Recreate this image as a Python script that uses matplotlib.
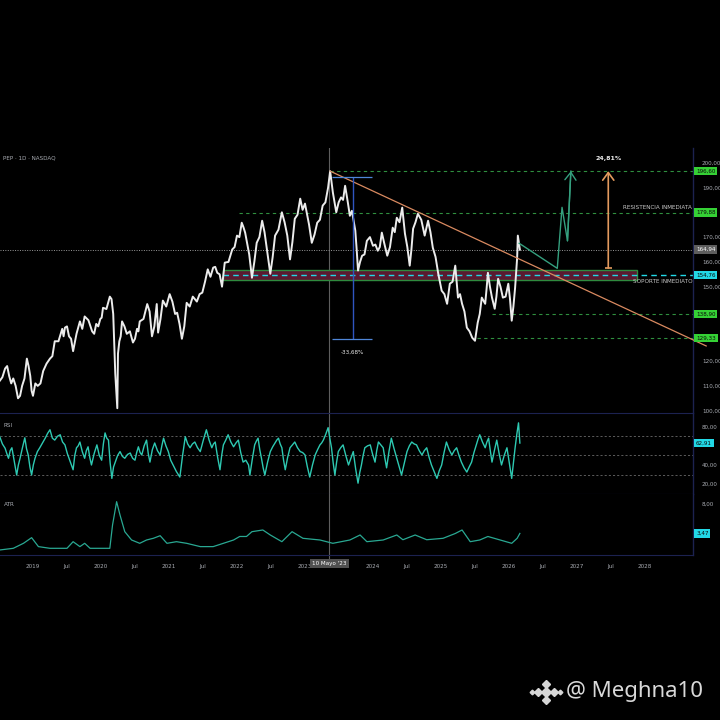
import matplotlib
matplotlib.use('Agg')
import matplotlib.pyplot as plt
from matplotlib.patches import Rectangle
from matplotlib.ticker import FuncFormatter

plt.rcParams['font.family'] = ['DejaVu Sans']

# ---------------- data (decimal years) ----------------
price_t = [2018.51, 2018.55, 2018.59, 2018.62, 2018.65, 2018.68, 2018.71, 2018.745, 2018.78, 2018.81,
           2018.84, 2018.875, 2018.91, 2018.935, 2018.96, 2018.98, 2019.00, 2019.035, 2019.07, 2019.11,
           2019.15, 2019.20, 2019.25, 2019.285, 2019.32, 2019.375, 2019.43, 2019.45, 2019.47, 2019.50,
           2019.53, 2019.56, 2019.59, 2019.64, 2019.69, 2019.725, 2019.76, 2019.815, 2019.87, 2019.90,
           2019.93, 2019.96, 2019.99, 2020.01, 2020.03, 2020.08, 2020.13, 2020.155, 2020.18, 2020.21,
           2020.24, 2020.25, 2020.27, 2020.29, 2020.31, 2020.345, 2020.38, 2020.425, 2020.47, 2020.50,
           2020.53, 2020.55, 2020.57, 2020.625, 2020.68, 2020.715, 2020.75, 2020.785, 2020.82, 2020.84,
           2020.875, 2020.91, 2020.96, 2021.01, 2021.05, 2021.09, 2021.12, 2021.155, 2021.19, 2021.225,
           2021.26, 2021.305, 2021.35, 2021.41, 2021.45, 2021.49, 2021.53, 2021.57, 2021.61, 2021.65,
           2021.68, 2021.71, 2021.745, 2021.78, 2021.82, 2021.875, 2021.93, 2021.965, 2022.00, 2022.035,
           2022.07, 2022.095, 2022.12, 2022.18, 2022.22, 2022.255, 2022.29, 2022.33, 2022.37, 2022.405,
           2022.44, 2022.49, 2022.525, 2022.56, 2022.61, 2022.66, 2022.70, 2022.74, 2022.78, 2022.815,
           2022.85, 2022.89, 2022.93, 2022.965, 2023.00, 2023.06, 2023.10, 2023.14, 2023.18, 2023.22,
           2023.26, 2023.30, 2023.34, 2023.37, 2023.41, 2023.46, 2023.495, 2023.53, 2023.56, 2023.59,
           2023.63, 2023.66, 2023.69, 2023.74, 2023.76, 2023.78, 2023.81, 2023.84, 2023.875, 2023.91,
           2023.955, 2024.00, 2024.035, 2024.07, 2024.10, 2024.13, 2024.17, 2024.21, 2024.25, 2024.29,
           2024.32, 2024.35, 2024.39, 2024.43, 2024.47, 2024.505, 2024.54, 2024.565, 2024.59, 2024.625,
           2024.66, 2024.71, 2024.76, 2024.81, 2024.845, 2024.88, 2024.92, 2024.96, 2025.01, 2025.05,
           2025.09, 2025.13, 2025.17, 2025.21, 2025.25, 2025.28, 2025.31, 2025.345, 2025.38, 2025.42,
           2025.46, 2025.50, 2025.54, 2025.57, 2025.60, 2025.65, 2025.67, 2025.69, 2025.72, 2025.75,
           2025.79, 2025.815, 2025.84, 2025.875, 2025.91, 2025.95, 2025.99, 2026.015, 2026.04, 2026.065,
           2026.09, 2026.12, 2026.13, 2026.16]
price_v = [112.0, 113.5, 117.0, 118.0, 114.0, 111.0, 113.0, 110.0, 105.0, 106.0,
           110.0, 113.0, 121.0, 118.0, 114.0, 108.0, 106.0, 111.0, 110.0, 111.0,
           116.0, 119.0, 121.0, 122.0, 128.0, 128.0, 133.0, 130.0, 133.5, 134.0,
           130.0, 129.0, 124.0, 131.0, 136.0, 133.0, 138.0, 136.5, 132.0, 131.0,
           135.0, 134.0, 137.0, 137.5, 141.5, 141.0, 146.0, 145.0, 139.0, 115.0,
           101.0, 123.0, 128.0, 130.0, 136.0, 134.0, 131.0, 132.0, 127.5, 129.0,
           133.0, 132.0, 136.0, 137.0, 143.0, 140.0, 130.0, 134.0, 143.0, 131.5,
           137.0, 144.4, 142.0, 147.0, 144.0, 139.0, 139.5, 135.0, 129.0, 134.0,
           143.5, 142.0, 146.0, 144.0, 147.0, 147.6, 152.0, 157.0, 154.0, 157.7,
           158.0, 155.6, 155.0, 150.0, 159.7, 160.0, 165.0, 166.0, 170.6, 170.0,
           175.8, 174.0, 171.8, 163.0, 153.6, 160.0, 167.7, 170.0, 176.6, 172.0,
           165.0, 155.2, 162.0, 170.6, 173.0, 180.0, 176.0, 170.6, 161.0, 168.0,
           177.4, 179.0, 185.5, 181.0, 183.5, 175.0, 167.7, 171.0, 175.8, 177.0,
           182.7, 184.0, 190.0, 196.6, 188.0, 180.0, 184.0, 186.0, 185.0, 190.7,
           184.0, 178.6, 180.6, 172.6, 165.0, 156.5, 160.0, 162.5, 163.0, 168.5,
           170.0, 166.5, 167.0, 164.5, 166.0, 171.8, 167.0, 162.5, 166.0, 173.8,
           172.0, 177.8, 176.0, 181.9, 171.4, 166.0, 158.5, 165.0, 173.4, 176.0,
           179.4, 177.0, 170.6, 176.6, 172.0, 165.7, 162.0, 155.2, 148.4, 147.0,
           143.1, 151.2, 152.0, 158.5, 145.6, 147.0, 143.1, 140.0, 133.5, 132.0,
           129.4, 128.2, 135.5, 139.0, 145.6, 143.1, 149.0, 155.6, 150.0, 145.6,
           141.1, 146.0, 153.2, 150.0, 145.6, 146.0, 151.2, 145.0, 136.3, 142.0,
           149.6, 161.7, 170.6, 164.94]

rsi_t = [2018.51, 2018.55, 2018.59, 2018.615, 2018.64, 2018.665, 2018.69, 2018.725, 2018.76, 2018.785,
         2018.81, 2018.845, 2018.88, 2018.905, 2018.93, 2018.955, 2018.98, 2019.005, 2019.03, 2019.065,
         2019.10, 2019.14, 2019.18, 2019.215, 2019.25, 2019.285, 2019.32, 2019.36, 2019.40, 2019.435,
         2019.47, 2019.505, 2019.54, 2019.565, 2019.59, 2019.615, 2019.64, 2019.665, 2019.69, 2019.725,
         2019.76, 2019.785, 2019.81, 2019.835, 2019.86, 2019.90, 2019.94, 2019.975, 2020.01, 2020.035,
         2020.06, 2020.085, 2020.11, 2020.135, 2020.16, 2020.185, 2020.21, 2020.245, 2020.28, 2020.315,
         2020.35, 2020.39, 2020.43, 2020.465, 2020.50, 2020.525, 2020.55, 2020.575, 2020.60, 2020.635,
         2020.67, 2020.695, 2020.72, 2020.755, 2020.79, 2020.83, 2020.87, 2020.895, 2020.92, 2020.955,
         2020.99, 2021.025, 2021.06, 2021.11, 2021.16, 2021.20, 2021.24, 2021.275, 2021.31, 2021.345,
         2021.38, 2021.42, 2021.46, 2021.505, 2021.55, 2021.59, 2021.63, 2021.655, 2021.68, 2021.715,
         2021.75, 2021.775, 2021.80, 2021.835, 2021.87, 2021.91, 2021.95, 2021.985, 2022.02, 2022.055,
         2022.09, 2022.13, 2022.17, 2022.19, 2022.225, 2022.26, 2022.285, 2022.31, 2022.335, 2022.36,
         2022.385, 2022.41, 2022.45, 2022.49, 2022.525, 2022.56, 2022.585, 2022.61, 2022.635, 2022.66,
         2022.685, 2022.71, 2022.745, 2022.78, 2022.815, 2022.85, 2022.89, 2022.93, 2022.965, 2023.00,
         2023.035, 2023.07, 2023.11, 2023.15, 2023.185, 2023.22, 2023.245, 2023.27, 2023.305, 2023.34,
         2023.365, 2023.39, 2023.415, 2023.44, 2023.465, 2023.49, 2023.525, 2023.56, 2023.60, 2023.64,
         2023.675, 2023.71, 2023.745, 2023.78, 2023.805, 2023.83, 2023.855, 2023.88, 2023.92, 2023.96,
         2023.995, 2024.03, 2024.055, 2024.08, 2024.115, 2024.15, 2024.175, 2024.20, 2024.235, 2024.27,
         2024.31, 2024.35, 2024.385, 2024.42, 2024.46, 2024.50, 2024.535, 2024.57, 2024.605, 2024.64,
         2024.68, 2024.72, 2024.755, 2024.79, 2024.825, 2024.86, 2024.90, 2024.94, 2024.975, 2025.01,
         2025.045, 2025.08, 2025.12, 2025.16, 2025.195, 2025.23, 2025.265, 2025.30, 2025.34, 2025.38,
         2025.415, 2025.45, 2025.485, 2025.52, 2025.545, 2025.57, 2025.61, 2025.65, 2025.675, 2025.70,
         2025.725, 2025.75, 2025.785, 2025.82, 2025.855, 2025.89, 2025.93, 2025.97, 2026.005, 2026.04,
         2026.065, 2026.09, 2026.115, 2026.14, 2026.16]
rsi_v = [69.8, 62.0, 57.5, 52.0, 47.0, 55.0, 58.0, 44.0, 29.5, 40.0,
         47.0, 58.0, 68.4, 57.0, 50.5, 38.0, 29.5, 40.0, 47.0, 54.0,
         58.0, 63.0, 68.0, 73.0, 76.8, 68.0, 66.0, 70.0, 71.6, 64.0,
         61.0, 52.0, 45.0, 40.0, 35.0, 50.0, 58.0, 60.0, 64.0, 54.0,
         47.0, 55.0, 59.0, 48.0, 40.0, 52.0, 61.0, 50.0, 45.0, 62.0,
         73.5, 68.0, 66.0, 42.0, 26.0, 38.0, 43.0, 50.0, 54.0, 49.0,
         47.0, 51.0, 52.5, 47.0, 45.0, 53.0, 59.0, 53.0, 50.5, 60.0,
         66.0, 52.0, 43.0, 56.0, 63.0, 55.0, 50.5, 60.0, 68.0, 60.0,
         54.0, 45.0, 40.0, 33.0, 27.4, 50.0, 69.5, 62.0, 58.0, 62.0,
         64.0, 58.0, 54.0, 66.0, 76.8, 66.0, 58.0, 62.0, 64.0, 48.0,
         35.0, 50.0, 61.0, 66.0, 71.6, 64.0, 59.0, 63.0, 66.0, 53.0,
         43.0, 45.0, 40.0, 29.5, 46.0, 61.0, 65.0, 68.0, 56.0, 47.0,
         37.0, 29.5, 43.0, 54.0, 59.0, 63.0, 66.0, 68.0, 62.0, 58.0,
         45.0, 35.0, 48.0, 58.0, 61.0, 64.0, 58.0, 54.0, 53.0, 50.5,
         38.0, 27.4, 40.0, 50.5, 56.0, 61.0, 63.0, 66.0, 72.0, 79.0,
         68.0, 58.0, 42.0, 29.5, 43.0, 54.0, 58.0, 61.0, 50.0, 40.0,
         47.0, 54.0, 36.0, 21.0, 32.0, 40.0, 50.0, 58.0, 60.0, 61.0,
         51.0, 43.0, 55.0, 64.0, 61.0, 58.0, 47.0, 37.0, 54.0, 68.0,
         57.0, 47.0, 38.0, 29.5, 42.0, 54.0, 60.0, 64.0, 62.0, 61.0,
         55.0, 50.5, 55.0, 58.0, 48.0, 40.0, 33.0, 26.0, 34.0, 40.0,
         53.0, 64.0, 56.0, 50.5, 55.0, 58.0, 50.0, 43.0, 37.0, 32.6,
         38.0, 43.0, 53.0, 61.0, 67.0, 71.6, 64.0, 58.0, 64.0, 68.0,
         55.0, 43.0, 55.0, 66.0, 52.0, 40.0, 50.0, 58.0, 42.0, 26.0,
         42.0, 58.0, 72.0, 84.0, 62.91]

atr_t = [2018.51, 2018.71, 2018.86, 2018.98, 2019.08, 2019.25, 2019.50, 2019.59, 2019.69, 2019.76,
         2019.84, 2020.13, 2020.17, 2020.23, 2020.28, 2020.35, 2020.45, 2020.57, 2020.67, 2020.77,
         2020.87, 2020.97, 2021.11, 2021.26, 2021.46, 2021.65, 2021.80, 2021.95, 2022.04, 2022.14,
         2022.22, 2022.38, 2022.49, 2022.66, 2022.81, 2022.97, 2023.22, 2023.41, 2023.66, 2023.81,
         2023.91, 2024.15, 2024.35, 2024.44, 2024.62, 2024.79, 2025.03, 2025.21, 2025.31, 2025.43,
         2025.57, 2025.69, 2025.87, 2026.04, 2026.12, 2026.16]
atr_v = [0.92, 1.18, 1.95, 2.82, 1.44, 1.18, 1.18, 2.20, 1.44, 1.95,
         1.18, 1.18, 4.77, 8.36, 6.30, 3.74, 2.46, 1.95, 2.46, 2.72,
         3.12, 1.95, 2.20, 1.95, 1.44, 1.44, 1.95, 2.46, 3.00, 3.00,
         3.74, 4.00, 3.23, 2.20, 3.74, 2.72, 2.46, 1.95, 2.46, 3.23,
         2.20, 2.46, 3.23, 2.50, 3.23, 2.50, 2.72, 3.46, 4.00, 2.20,
         2.46, 3.00, 2.46, 1.95, 2.72, 3.47]

# key levels
level_target = 196.60
level_resist = 179.88
level_last = 164.94
level_support = 154.76
level_s2 = 138.90
level_s3 = 129.33
zone_low, zone_high = 152.9, 156.8
zone_t0, zone_t1 = 2021.79, 2027.88
resist_t0 = 2022.03
s2_t0 = 2025.75
s3_t0 = 2025.53
peak_t, peak_v = 2023.37, 196.6
trend_end_t, trend_end_v = 2028.90, 126.1
proj_t = [2026.15, 2026.71, 2026.78, 2026.86, 2026.91]
proj_v = [167.5, 157.4, 182.0, 168.5, 196.6]
gain_t, gain_lo, gain_hi, gain_lbl = 2027.46, 157.52, 196.60, '24,81%'
drop_t, drop_hi, drop_lo, drop_lbl = 2023.70, 194.4, 128.93, '-33,68%'
drop_tick0, drop_tick1 = 2023.40, 2023.99
cross_t = 2023.36
cross_lbl = "10 Mayo '23"

x_ticks = [2019, 2019.5, 2020, 2020.5, 2021, 2021.5, 2022, 2022.5, 2023, 2024, 2024.5,
           2025, 2025.5, 2026, 2026.5, 2027, 2027.5, 2028]
x_labels = ['2019', 'Jul', '2020', 'Jul', '2021', 'Jul', '2022', 'Jul', '2023', '2024', 'Jul',
            '2025', 'Jul', '2026', 'Jul', '2027', 'Jul', '2028']
price_ticks = [200, 190, 170, 160, 150, 120, 110, 100]
rsi_ticks = [80, 40, 20]
rsi_levels = [70, 50, 30]
atr_ticks = [8]

# ---------------- style ----------------
BG = 'black'
GRID_SEP = '#1c2250'
TXT = '#a9acb3'
WHITE = '#ececec'
GREEN_D = '#2f8f3f'
GREEN_BOX = '#35d135'
CYAN = '#22d8e6'
TEAL = '#2ec9b2'
ORANGE = '#e39a5e'
TREND = '#d98a60'
PROJ = '#35a07f'
BLUE = '#2f55c0'
BLUE_L = '#4f86d8'
FS = 4.1

W, H = 720, 720
fig = plt.figure(figsize=(7.2, 7.2), dpi=100, facecolor=BG)


def rect(x0, y0, x1, y1):
    return [x0 / W, 1 - y1 / H, (x1 - x0) / W, (y1 - y0) / H]


ax_p = fig.add_axes(rect(0, 148, 693, 413))
ax_r = fig.add_axes(rect(0, 413, 693, 494), sharex=ax_p)
ax_a = fig.add_axes(rect(0, 494, 693, 555), sharex=ax_p)

xmin, xmax = 2018.515, 2028.706
for ax in (ax_p, ax_r, ax_a):
    ax.set_facecolor(BG)
    ax.set_xlim(xmin, xmax)
    for s in ('left', 'top', 'bottom'):
        ax.spines[s].set_visible(False)
    ax.spines['right'].set_color(GRID_SEP)
    ax.spines['right'].set_linewidth(1.0)
    ax.yaxis.tick_right()
    ax.tick_params(axis='y', right=False, labelright=True, labelsize=FS, colors=TXT, pad=3)
    ax.tick_params(axis='x', bottom=False, labelbottom=False)
    ax.yaxis.set_major_formatter(FuncFormatter(lambda v, p: f'{v:.2f}'.replace('.', ',')))
    ax.axvline(cross_t, color='#5e5e5e', lw=0.8, zorder=1)

ax_r.spines['top'].set_visible(True)
ax_r.spines['top'].set_color(GRID_SEP)
ax_r.spines['bottom'].set_visible(True)
ax_r.spines['bottom'].set_color(GRID_SEP)
ax_a.spines['bottom'].set_visible(True)
ax_a.spines['bottom'].set_color(GRID_SEP)

# ---------------- price pane ----------------
ax_p.set_ylim(99.07, 205.93)
ax_p.set_yticks(price_ticks)

ax_p.add_patch(Rectangle((zone_t0, zone_low), zone_t1 - zone_t0, zone_high - zone_low,
                         facecolor='#5a1a30', edgecolor='#2f8a3e', lw=1.0, zorder=1))
ax_p.hlines(level_support, zone_t0, xmax, colors=CYAN, linestyles=(0, (4, 3)), lw=1.0, zorder=2)
ax_p.hlines(level_last, xmin, xmax, colors='#9a9a9a', linestyles=(0, (1, 1.5)), lw=0.7, zorder=2)
ax_p.hlines(level_target, peak_t, xmax, colors=GREEN_D, linestyles=(0, (3, 3)), lw=0.8, zorder=2)
ax_p.hlines(level_resist, resist_t0, xmax, colors=GREEN_D, linestyles=(0, (3, 3)), lw=0.8, zorder=2)
ax_p.hlines(level_s2, s2_t0, xmax, colors=GREEN_D, linestyles=(0, (3, 3)), lw=0.8, zorder=2)
ax_p.hlines(level_s3, s3_t0, xmax, colors=GREEN_D, linestyles=(0, (3, 3)), lw=0.8, zorder=2)

ax_p.plot(price_t, price_v, color=WHITE, lw=1.4, zorder=4)

ax_p.plot([peak_t, trend_end_t], [peak_v, trend_end_v], color=TREND, lw=0.9, zorder=5, clip_on=False)

ax_p.plot(proj_t, proj_v, color=PROJ, lw=1.0, zorder=5)
ax_p.annotate('', xy=(proj_t[-1], proj_v[-1]), xytext=(proj_t[-2], proj_v[-2]),
              arrowprops=dict(arrowstyle='->,head_length=0.55,head_width=0.4', color=PROJ, lw=1.0,
                              shrinkA=0, shrinkB=0, mutation_scale=10), zorder=5)

ax_p.annotate('', xy=(gain_t, gain_hi), xytext=(gain_t, gain_lo),
              arrowprops=dict(arrowstyle='->,head_length=0.55,head_width=0.4', color=ORANGE, lw=1.2,
                              shrinkA=0, shrinkB=0, mutation_scale=10), zorder=5)
ax_p.hlines(gain_lo, gain_t - 0.05, gain_t + 0.05, colors=ORANGE, lw=1.2, zorder=5)
ax_p.text(gain_t, 201.6, gain_lbl, color=WHITE, fontsize=FS + 0.4, ha='center', va='center',
          fontweight='bold')

ax_p.vlines(drop_t, drop_lo, drop_hi, colors=BLUE, lw=1.0, zorder=5)
ax_p.hlines([drop_hi, drop_lo], drop_tick0, drop_tick1, colors=BLUE_L, lw=0.9, zorder=5)
ax_p.text(drop_t, 123.7, drop_lbl, color=WHITE, fontsize=FS, ha='center', va='center')

ax_p.text(0.005, 0.962, 'PEP · 1D · NASDAQ', transform=ax_p.transAxes, color=TXT, fontsize=FS,
          ha='left', va='center')
ax_p.text(xmax - 0.01, 181.9, 'RESISTENCIA INMEDIATA', color='#c8c8c8', fontsize=FS, ha='right',
          va='center')
ax_p.text(xmax - 0.01, 151.9, 'SOPORTE INMEDIATO', color='#c8c8c8', fontsize=FS, ha='right',
          va='center')


def tag(ax, y, txt, fc, tc):
    ax.text(1.0045, y, txt, transform=ax.get_yaxis_transform(), fontsize=FS, color=tc,
            ha='left', va='center', zorder=10, clip_on=False,
            bbox=dict(boxstyle='square,pad=0.3', fc=fc, ec='none'))


tag(ax_p, level_target, '196,60', GREEN_BOX, '#0a0a0a')
tag(ax_p, level_resist, '179,88', GREEN_BOX, '#0a0a0a')
tag(ax_p, level_last, '164,94', '#5d5d5d', '#ffffff')
tag(ax_p, level_support, '154,76', CYAN, '#0a0a0a')
tag(ax_p, level_s2, '138,90', GREEN_BOX, '#0a0a0a')
tag(ax_p, level_s3, '129,33', GREEN_BOX, '#0a0a0a')

# ---------------- RSI pane ----------------
ax_r.set_ylim(9.7, 94.3)
ax_r.set_yticks(rsi_ticks)
for lv in rsi_levels:
    ax_r.axhline(lv, color='#6a6a6a', lw=0.6, ls=(0, (2.5, 2.5)), zorder=1)
ax_r.plot(rsi_t, rsi_v, color=TEAL, lw=1.0, zorder=3)
ax_r.text(0.005, 0.85, 'RSI', transform=ax_r.transAxes, color=TXT, fontsize=FS, ha='left', va='center')
tag(ax_r, rsi_v[-1], f'{rsi_v[-1]:.2f}'.replace('.', ','), CYAN, '#0a0a0a')

# ---------------- ATR pane ----------------
ax_a.set_ylim(0.15, 9.54)
ax_a.set_yticks(atr_ticks)
ax_a.plot(atr_t, atr_v, color='#29a892', lw=0.9, zorder=3)
ax_a.text(0.005, 0.82, 'ATR', transform=ax_a.transAxes, color=TXT, fontsize=FS, ha='left', va='center')
tag(ax_a, atr_v[-1], f'{atr_v[-1]:.2f}'.replace('.', ','), CYAN, '#0a0a0a')

ax_a.set_xticks(x_ticks)
ax_a.set_xticklabels(x_labels)
ax_a.tick_params(axis='x', bottom=False, labelbottom=True, labelsize=FS, colors=TXT, pad=3)

# crosshair date label
ax_a.annotate(cross_lbl, xy=(cross_t, 0), xycoords=('data', 'axes fraction'), xytext=(0, -6),
              textcoords='offset points', ha='center', va='center', fontsize=FS, color='#ffffff',
              annotation_clip=False, zorder=10,
              bbox=dict(boxstyle='square,pad=0.4', fc='#505050', ec='none'))
ax_a.plot([cross_t, cross_t], [0, -0.08], transform=ax_a.get_xaxis_transform(), color='#5e5e5e',
          lw=0.8, clip_on=False, zorder=1)

# ---------------- watermark ----------------
lx, ly = 546 / W, 1 - 692 / H
for dx, dy, s in [(0, 0, 5.5), (0, 8, 4.0), (-8, 0, 4.0), (8, 0, 4.0), (-14, 0, 2.4), (14, 0, 2.4),
                  (0, -8, 4.0)]:
    fig.add_artist(plt.Line2D([lx + dx / W], [ly + dy / H], marker='D', markersize=s,
                              color='#d6d6d6', linestyle='none'))
fig.text(566 / W, ly, '@ Meghna10', color='#d9d9d9', fontsize=16, ha='left', va='center',
         family=['Noto Sans', 'DejaVu Sans'])

fig.savefig('out.png', dpi=100, facecolor=BG)
